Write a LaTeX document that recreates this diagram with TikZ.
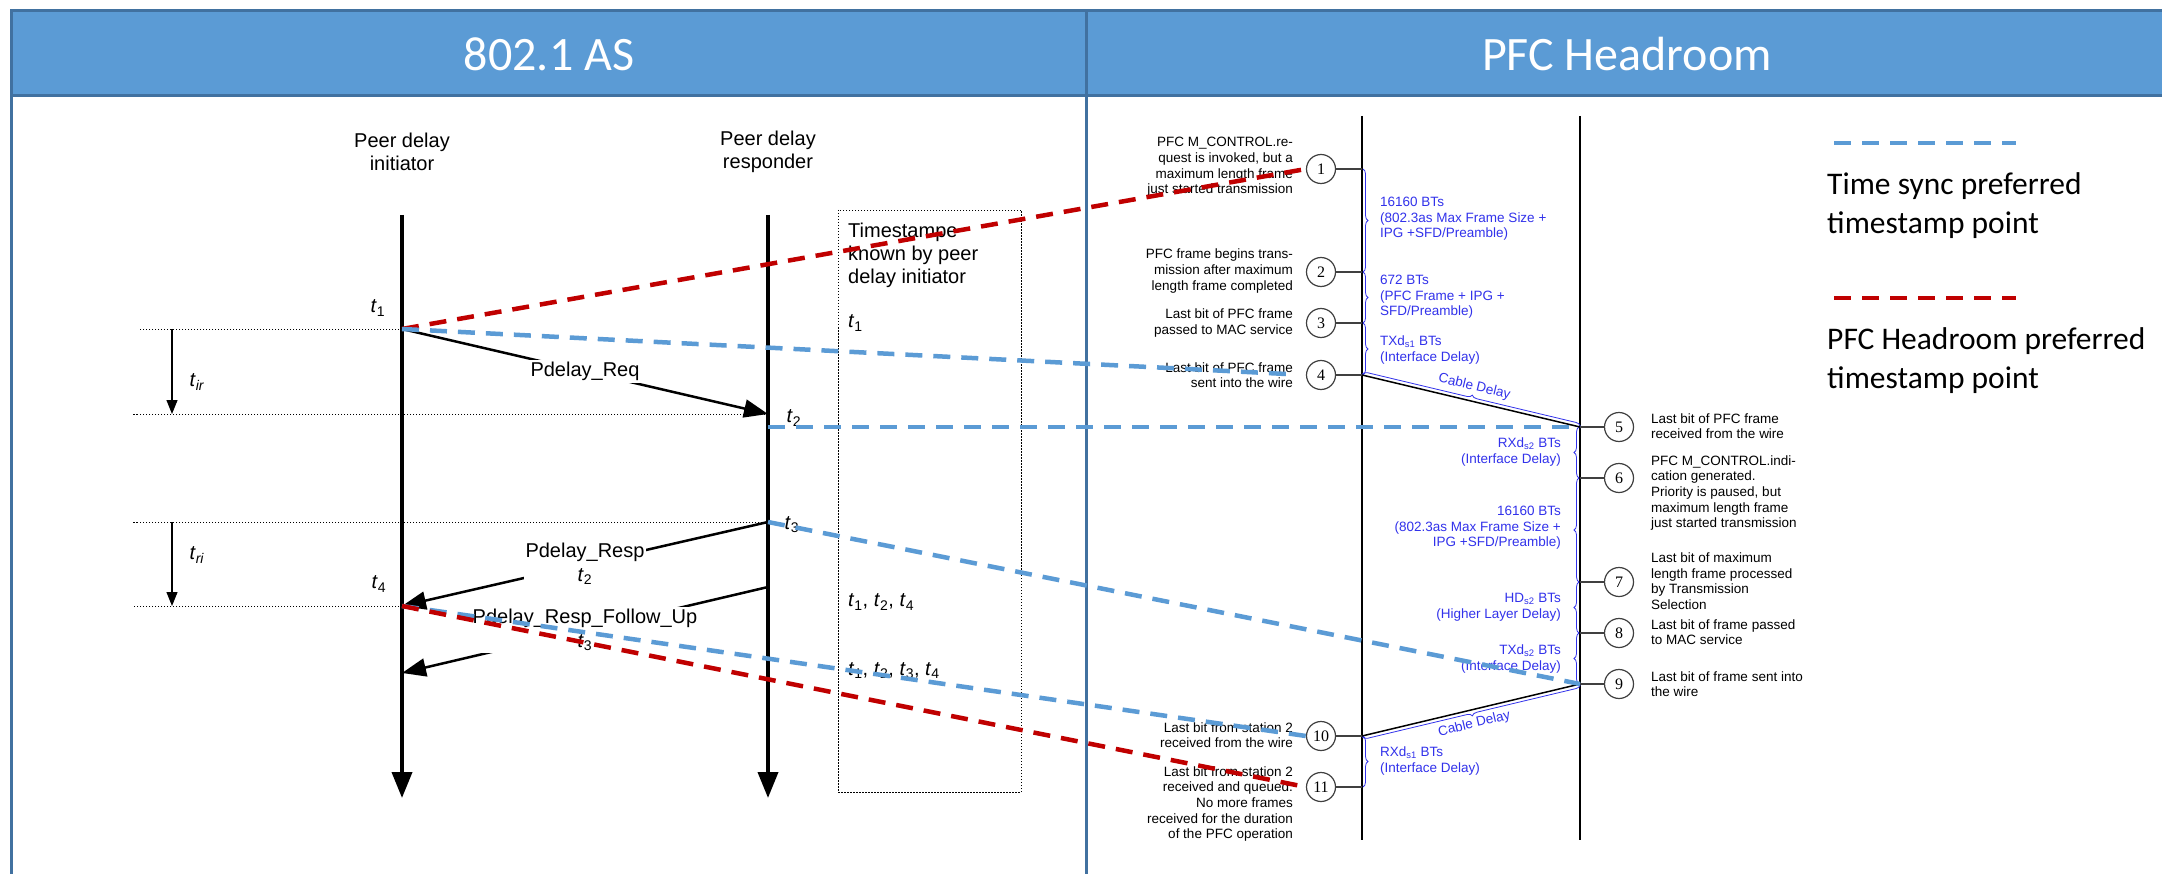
\documentclass[tikz,border=0pt]{standalone}
\usepackage{fontspec}
\setmainfont{Liberation Sans}
\newfontfamily\headfont{Carlito}
\newfontfamily\numfont{Liberation Serif}
\usetikzlibrary{arrows.meta,decorations.pathreplacing}
\definecolor{headblue}{RGB}{91,155,213}
\definecolor{framecol}{RGB}{65,113,160}
\definecolor{syncblue}{RGB}{91,155,213}
\definecolor{pfcred}{RGB}{192,0,0}
\definecolor{btblue}{RGB}{50,50,235}
\newcommand{\ts}[1]{\textit{t}\textsubscript{#1}}

\begin{document}
\begin{tikzpicture}
[x=1pt,y=-1pt,every node/.style={inner sep=0pt},
 titletxt/.style={text=white,font=\headfont\fontsize{48}{48}\selectfont},
 actor/.style={align=center,font=\fontsize{20}{23}\selectfont},
 tlbl/.style={font=\fontsize{20}{23}\selectfont},
 lifeline/.style={line width=3.8pt,-{Triangle[length=26pt,width=20pt]}},
 msg/.style={line width=2.5pt,-{Triangle[length=24pt,width=18pt]}},
 msglbl/.style={fill=white,align=center,inner sep=2pt,font=\fontsize{20}{24}\selectfont},
 guide/.style={line width=0.7pt,dash pattern=on 1.5pt off 1.5pt},
 span/.style={line width=1.2pt,-{Triangle[length=14pt,width=11pt]}},
 station/.style={line width=2pt},
 evt/.style={circle,draw=black!75,line width=1.2pt,minimum size=29pt,fill=white,font=\numfont\fontsize{16}{16}\selectfont},
 tick/.style={draw=black!75,line width=1.3pt},
 note/.style={font=\fontsize{13.5}{15.6}\selectfont},
 bt/.style={text=btblue,font=\fontsize{13.5}{15.6}\selectfont},
 brc/.style={btblue,line width=0.8pt,decorate,decoration={brace,amplitude=5pt,raise=1pt}},
 cable/.style={line width=1.5pt},
 syncline/.style={syncblue,line width=4.5pt,dash pattern=on 17pt off 11pt},
 pfcline/.style={pfcred,line width=4.5pt,dash pattern=on 17pt off 11pt},
 legtxt/.style={anchor=west,align=left,font=\headfont\fontsize{31.5}{39}\selectfont}]
\fill[white] (0,0) rectangle (2162,874);
\useasboundingbox (0,0) rectangle (2162,874);

\draw[framecol,line width=3pt,fill=headblue] (11,11) rectangle (2180,96);
\draw[framecol,line width=3pt] (11,96) -- (11,880) (1086,11) -- (1086,880);
\node[titletxt] (hAS) at (549,54) {802.1 AS};
\node[titletxt] (hPFC) at (1627,54) {PFC Headroom};

\node[actor] (ini) at (402,152) {Peer delay\\initiator};
\node[actor] (res) at (768,152) {Peer delay\\responder};
\coordinate (iniTop) at (402,215);
\coordinate (iniBot) at (402,798);
\coordinate (resTop) at (768,215);
\coordinate (resBot) at (768,798);
\coordinate (t1) at (402,329);
\coordinate (t2) at (768,414);
\coordinate (t3) at (768,522);
\coordinate (t4) at (402,606);
\coordinate (fuA) at (768,587);
\coordinate (fuB) at (402,673);
\draw[lifeline] (iniTop) -- (iniBot);
\draw[lifeline] (resTop) -- (resBot);

\draw[guide] (t1) -- ++(-264,0);
\draw[guide] (t2) -- ++(-635,0);
\draw[guide] (t3) -- ++(-635,0);
\draw[guide] (t4) -- ++(-269,0);
\draw[span] (172,329) -- (172,414);
\draw[span] (172,522) -- (172,606);
\node[tlbl] at (197,382) {\textit{t}\textsubscript{\textit{ir}}};
\node[tlbl] at (197,555) {\textit{t}\textsubscript{\textit{ri}}};
\node[tlbl] at (378,308) {\ts{1}};
\node[tlbl] at (794,418) {\ts{2}};
\node[tlbl] at (792,525) {\ts{3}};
\node[tlbl] at (379,584) {\ts{4}};

\draw[msg] (t1) -- node[msglbl]{Pdelay\_Req} (t2);
\draw[msg] (t3) -- node[msglbl]{Pdelay\_Resp\\\ts{2}} (t4);
\draw[msg] (fuA) -- node[msglbl]{Pdelay\_Resp\_Follow\_Up\\\ts{3}} (fuB);

\draw[guide] (838,210) rectangle (1021,792);
\node[tlbl,anchor=west,align=left] at (848,255) {Timestampe\\known by peer\\delay initiator};
\node[tlbl,anchor=west] at (848,323) {\ts{1}};
\node[tlbl,anchor=west] at (848,602) {\ts{1}, \ts{2}, \ts{4}};
\node[tlbl,anchor=west] at (848,671) {\ts{1}, \ts{2}, \ts{3}, \ts{4}};

\coordinate (sa) at (1362,116);
\coordinate (saBot) at (1362,840);
\coordinate (sb) at (1580,116);
\coordinate (sbBot) at (1580,840);
\draw[station] (sa) -- (saBot);
\draw[station] (sb) -- (sbBot);

\foreach \n/\y in {1/169,2/272,3/323,4/375,10/736,11/787}
  \node[evt] (e\n) at (1321,\y) {\n};
\foreach \n/\y in {5/427,6/478,7/582,8/633,9/684}
  \node[evt] (e\n) at (1619,\y) {\n};
\foreach \n in {1,2,3,4,10,11}
  \draw[tick] (e\n) -- (e\n -| sa);
\foreach \n in {5,...,9}
  \draw[tick] (e\n) -- (e\n -| sb);

\node[note,anchor=east,align=right] at (1293,167) {PFC M\_CONTROL.re-\\quest is invoked, but a\\maximum length frame\\just started transmission};
\node[note,anchor=east,align=right] at (1293,271) {PFC frame begins trans-\\mission after maximum\\length frame completed};
\node[note,anchor=east,align=right] at (1293,323) {Last bit of PFC frame\\passed to MAC service};
\node[note,anchor=east,align=right] at (1293,375) {Last bit of PFC frame\\sent into the wire};
\node[note,anchor=east,align=right] at (1293,735) {Last bit from station 2\\received from the wire};
\node[note,anchor=east,align=right] at (1293,804) {Last bit from station 2\\received and queued.\\No more frames\\received for the duration\\of the PFC operation};
\node[note,anchor=west,align=left] at (1651,426) {Last bit of PFC frame\\received from the wire};
\node[note,anchor=west,align=left] at (1651,493) {PFC M\_CONTROL.indi-\\cation generated.\\Priority is paused, but\\maximum length frame\\just started transmission};
\node[note,anchor=west,align=left] at (1651,581) {Last bit of maximum\\length frame processed\\by Transmission\\Selection};
\node[note,anchor=west,align=left] at (1651,632) {Last bit of frame passed\\to MAC service};
\node[note,anchor=west,align=left] at (1651,684) {Last bit of frame sent into\\the wire};

\draw[brc] (e1 -| sa) -- (e2 -| sa);
\draw[brc] (e2 -| sa) -- (e3 -| sa);
\draw[brc] (e3 -| sa) -- (e4 -| sa);
\draw[brc] (e10 -| sa) -- (e11 -| sa);
\draw[brc] (e6 -| sb) -- (e5 -| sb);
\draw[brc] (e7 -| sb) -- (e6 -| sb);
\draw[brc] (e8 -| sb) -- (e7 -| sb);
\draw[brc] (e9 -| sb) -- (e8 -| sb);
\node[bt,anchor=west,align=left] at (1380,219) {16160 BTs\\(802.3as Max Frame Size +\\IPG +SFD/Preamble)};
\node[bt,anchor=west,align=left] at (1380,297) {672 BTs\\(PFC Frame + IPG +\\SFD/Preamble)};
\node[bt,anchor=west,align=left] at (1380,350) {TXd\textsubscript{s1} BTs\\(Interface Delay)};
\node[bt,anchor=west,align=left] at (1380,761) {RXd\textsubscript{s1} BTs\\(Interface Delay)};
\node[bt,anchor=east,align=right] at (1561,452) {RXd\textsubscript{s2} BTs\\(Interface Delay)};
\node[bt,anchor=east,align=right] at (1561,528) {16160 BTs\\(802.3as Max Frame Size +\\IPG +SFD/Preamble)};
\node[bt,anchor=east,align=right] at (1561,607) {HD\textsubscript{s2} BTs\\(Higher Layer Delay)};
\node[bt,anchor=east,align=right] at (1561,659) {TXd\textsubscript{s2} BTs\\(Interface Delay)};

\draw[cable] (e4 -| sa) -- (e5 -| sb);
\draw[brc] (e4 -| sa) -- (e5 -| sb);
\path (e4 -| sa) -- node[bt,sloped,above=8pt]{Cable Delay} (e5 -| sb);
\draw[cable] (e9 -| sb) -- (e10 -| sa);
\draw[brc] (e9 -| sb) -- (e10 -| sa);
\path (e10 -| sa) -- node[bt,sloped,below=8pt]{Cable Delay} (e9 -| sb);

\draw[pfcline] (t1) -- (e1.west);
\draw[syncline,shorten >=13pt] (t1) -- (e4.west);
\draw[syncline] (e5 -| t2) -- (e5 -| sb);
\draw[syncline] (t3) -- (e9 -| sb);
\draw[syncline] (t4) -- (e10.west);
\draw[pfcline] (t4) -- (e11.west);

\draw[syncline] (1834,143) -- (2016,143);
\node[legtxt] (lgSync) at (1827,206) {Time sync preferred\\timestamp point};
\draw[pfcline] (1834,298) -- (2016,298);
\node[legtxt] (lgPfc) at (1827,361) {PFC Headroom preferred\\timestamp point};
\end{tikzpicture}
\end{document}
